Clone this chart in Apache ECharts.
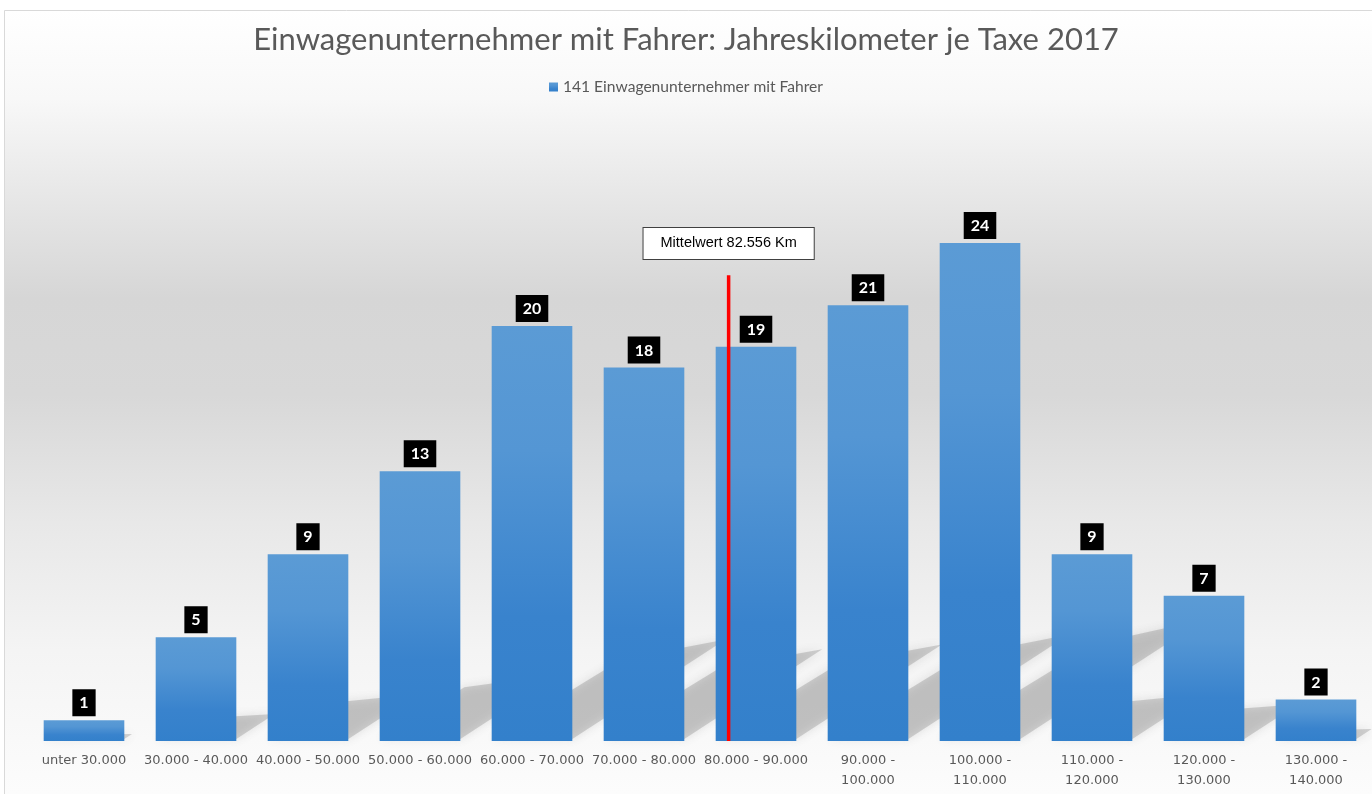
<!DOCTYPE html>
<html>
<head>
<meta charset="utf-8">
<script src="https://cdn.jsdelivr.net/npm/echarts@6/dist/echarts.min.js"></script>
<style>
  html, body { margin: 0; padding: 0; background: #fff; }
  #chart { width: 1372px; height: 794px; }
</style>
</head>
<body>
<div id="chart"></div>
<script>
// Jahreskilometer-Klassen
const categories = [
  'unter 30.000', '30.000 - 40.000', '40.000 - 50.000', '50.000 - 60.000',
  '60.000 - 70.000', '70.000 - 80.000', '80.000 - 90.000', '90.000 - 100.000',
  '100.000 - 110.000', '110.000 - 120.000', '120.000 - 130.000', '130.000 - 140.000'
]
// Anzahl Unternehmer je Klasse
const counts = [1, 5, 9, 13, 20, 18, 19, 21, 24, 9, 7, 2]
const seriesName = '141 Einwagenunternehmer mit Fahrer'
// Mittelwert in km, Klassen-Grenzen der Werteachse
const meanKm = 82556
const rangeKm = [20000, 140000]

const fmtKm = v => String(v).replace(/\B(?=(\d{3})+(?!\d))/g, '.')

const chart = echarts.init(document.getElementById('chart'))

const barGradient = new echarts.graphic.LinearGradient(0, 0, 0, 1, [
  { offset: 0, color: '#5b9bd5' },
  { offset: 0.3, color: '#5496d4' },
  { offset: 0.7, color: '#3983cd' },
  { offset: 1, color: '#3380cb' }
])

const option = {
  animation: false,
  graphic: [{
    type: 'rect',
    z: -100,
    silent: true,
    shape: { x: 4.5, y: 10.5, width: 1400, height: 800 },
    style: {
      stroke: '#d9d9d9',
      lineWidth: 1,
      fill: new echarts.graphic.LinearGradient(0, 0, 0, 1, [
        { offset: 0, color: '#ffffff' },
        { offset: 0.11, color: '#f8f8f8' },
        { offset: 0.24, color: '#e6e6e6' },
        { offset: 0.36, color: '#d6d6d6' },
        { offset: 0.48, color: '#d8d8d8' },
        { offset: 0.64, color: '#e8e8e8' },
        { offset: 0.8, color: '#f4f4f4' },
        { offset: 1, color: '#fdfdfd' }
      ])
    }
  }],
  title: {
    text: 'Einwagenunternehmer mit Fahrer: Jahreskilometer je Taxe 2017',
    left: 'center',
    top: 24,
    padding: 0,
    textStyle: {
      fontFamily: 'Lato',
      fontSize: 31,
      fontWeight: 'normal',
      color: '#595959'
    }
  },
  legend: {
    top: 79,
    left: 'center',
    padding: 0,
    itemWidth: 9,
    itemHeight: 9,
    icon: 'rect',
    data: [seriesName],
    textStyle: { fontFamily: 'Lato', fontSize: 15.6, color: '#595959' }
  },
  grid: { left: 28, width: 1345, top: 118.5, bottom: 53 },
  xAxis: [{
    type: 'category',
    data: categories,
    axisLine: { show: false },
    axisTick: { show: false },
    axisLabel: {
      interval: 0,
      margin: 10,
      fontFamily: 'DejaVu Sans',
      fontSize: 13,
      lineHeight: 20,
      color: '#595959',
      formatter: v => v.length > 15 ? v.replace(' - ', ' -\n') : v
    }
  }, {
    type: 'value',
    min: rangeKm[0],
    max: rangeKm[1],
    show: false
  }],
  yAxis: {
    type: 'value',
    min: 0,
    max: 30,
    show: false
  },
  series: [
    {
      // Bodenschatten der Balken
      type: 'custom',
      silent: true,
      z: 1,
      data: counts.map((v, i) => [i, v]),
      renderItem: (params, api) => {
        const base = api.coord([api.value(0), 0])
        const top = api.coord([api.value(0), api.value(1)])
        const half = api.size([1, 0])[0] * 0.72 / 2
        const h = base[1] - top[1]
        const dy = h * 0.24
        const dx = dy / 0.65
        const x0 = base[0] - half
        const x1 = base[0] + half
        const b = base[1] - 2
        return {
          type: 'polygon',
          shape: { points: [[x0, b], [x1, b], [x1 + dx, b - dy], [x0 + dx * 0.85, b - dy * 0.8]] },
          style: {
            fill: 'rgba(100,100,100,0.26)',
            shadowBlur: 10,
            shadowColor: 'rgba(90,90,90,0.6)'
          }
        }
      }
    },
    {
      name: seriesName,
      type: 'bar',
      z: 3,
      barWidth: '72%',
      data: counts,
      itemStyle: { color: barGradient },
      label: {
        show: true,
        position: 'top',
        distance: 4,
        fontFamily: 'Lato',
        fontWeight: 'bold',
        fontSize: 16,
        color: '#ffffff',
        backgroundColor: '#000000',
        padding: [4, 7, 3, 7],
        lineHeight: 20
      }
    },
    {
      // Mittelwert-Linie
      type: 'line',
      xAxisIndex: 1,
      z: 5,
      symbol: 'circle',
      symbolSize: 0.1,
      showSymbol: true,
      lineStyle: { color: '#ff0000', width: 3.5 },
      itemStyle: { color: '#ff0000' },
      data: [
        { value: [meanKm, 0], label: { show: false } },
        { value: [meanKm, 22.45] }
      ],
      label: {
        show: true,
        position: 'top',
        distance: 16,
        formatter: () => 'Mittelwert ' + fmtKm(meanKm) + ' Km',
        fontFamily: 'Liberation Sans',
        fontSize: 14.5,
        lineHeight: 16,
        color: '#000000',
        backgroundColor: '#ffffff',
        borderColor: '#404040',
        borderWidth: 1,
        padding: [7, 17, 8, 17]
      }
    }
  ]
}

chart.setOption(option)
</script>
</body>
</html>
